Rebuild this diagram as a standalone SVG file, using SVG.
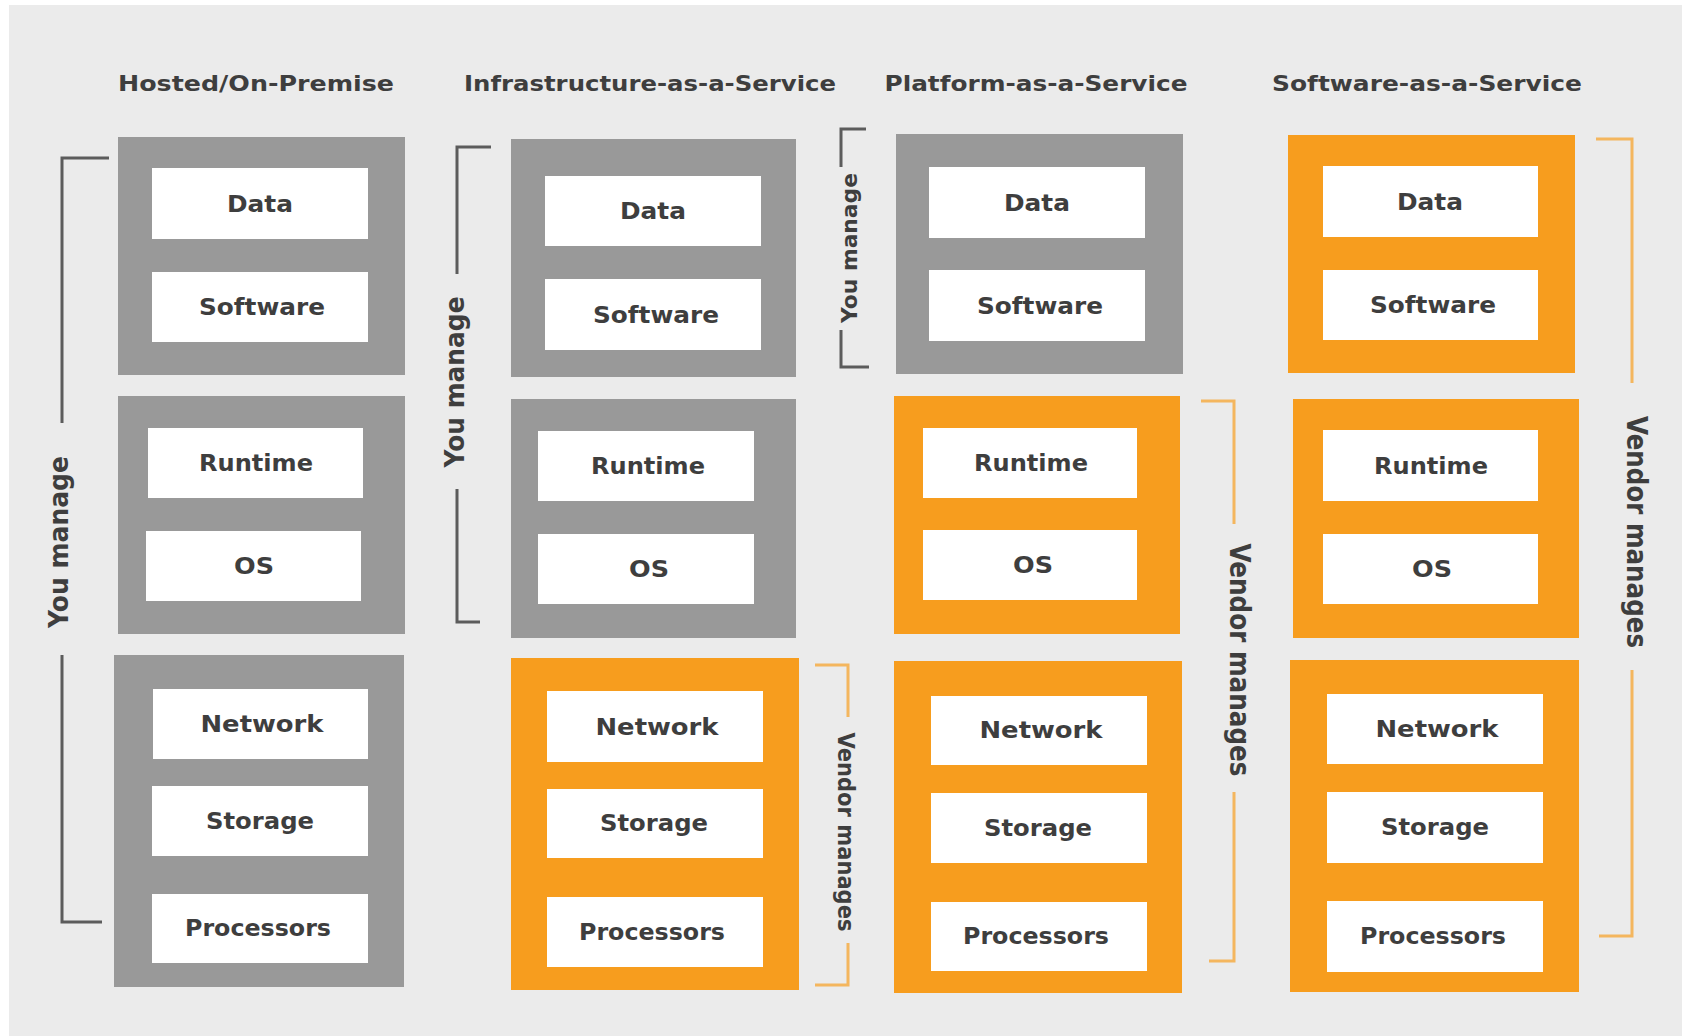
<svg xmlns="http://www.w3.org/2000/svg" width="1682" height="1036" viewBox="0 0 1682 1036">
<style>
.bg{fill:#ebebeb}
.gbox{fill:#999999}
.obox{fill:#f79d1e}
.cell{fill:#ffffff}
text{font-family:"DejaVu Sans","Liberation Sans",sans-serif;font-weight:bold;fill:#3e3e3e}
.lbl{font-size:23px;text-anchor:middle}
.ttl{font-size:21px;text-anchor:middle}
.side{text-anchor:middle}
.gline{fill:none;stroke:#5c5c5c;stroke-width:3}
.oline{fill:none;stroke:#f4b65e;stroke-width:3}
</style>
<rect x="0" y="0" width="1682" height="1036" fill="#ffffff"/>
<rect class="bg" x="9" y="5" width="1673" height="1031"/>

<g id="titles">
<text class="ttl" x="256" y="91" textLength="276" lengthAdjust="spacingAndGlyphs">Hosted/On-Premise</text>
<text class="ttl" x="650" y="91" textLength="372" lengthAdjust="spacingAndGlyphs">Infrastructure-as-a-Service</text>
<text class="ttl" x="1036" y="91" textLength="303" lengthAdjust="spacingAndGlyphs">Platform-as-a-Service</text>
<text class="ttl" x="1427" y="91" textLength="310" lengthAdjust="spacingAndGlyphs">Software-as-a-Service</text>
</g>

<g id="onprem-app">
<rect class="gbox" x="118" y="137" width="287" height="238"/>
<rect class="cell" x="152" y="168" width="216" height="71"/>
<text class="lbl" x="260" y="212" textLength="66" lengthAdjust="spacingAndGlyphs">Data</text>
<rect class="cell" x="152" y="272" width="216" height="70"/>
<text class="lbl" x="262" y="315" textLength="126" lengthAdjust="spacingAndGlyphs">Software</text>
</g>
<g id="onprem-platform">
<rect class="gbox" x="118" y="396" width="287" height="238"/>
<rect class="cell" x="148" y="428" width="215" height="70"/>
<text class="lbl" x="256" y="471" textLength="114" lengthAdjust="spacingAndGlyphs">Runtime</text>
<rect class="cell" x="146" y="531" width="215" height="70"/>
<text class="lbl" x="254" y="574" textLength="40" lengthAdjust="spacingAndGlyphs">OS</text>
</g>
<g id="onprem-infra">
<rect class="gbox" x="114" y="655" width="290" height="332"/>
<rect class="cell" x="153" y="689" width="215" height="70"/>
<text class="lbl" x="262" y="732" textLength="123" lengthAdjust="spacingAndGlyphs">Network</text>
<rect class="cell" x="152" y="786" width="216" height="70"/>
<text class="lbl" x="260" y="829" textLength="108" lengthAdjust="spacingAndGlyphs">Storage</text>
<rect class="cell" x="152" y="894" width="216" height="69"/>
<text class="lbl" x="258" y="936" textLength="146" lengthAdjust="spacingAndGlyphs">Processors</text>
</g>

<g id="iaas-app">
<rect class="gbox" x="511" y="139" width="285" height="238"/>
<rect class="cell" x="545" y="176" width="216" height="70"/>
<text class="lbl" x="653" y="219" textLength="66" lengthAdjust="spacingAndGlyphs">Data</text>
<rect class="cell" x="545" y="279" width="216" height="71"/>
<text class="lbl" x="656" y="323" textLength="126" lengthAdjust="spacingAndGlyphs">Software</text>
</g>
<g id="iaas-platform">
<rect class="gbox" x="511" y="399" width="285" height="239"/>
<rect class="cell" x="538" y="431" width="216" height="70"/>
<text class="lbl" x="648" y="474" textLength="114" lengthAdjust="spacingAndGlyphs">Runtime</text>
<rect class="cell" x="538" y="534" width="216" height="70"/>
<text class="lbl" x="649" y="577" textLength="40" lengthAdjust="spacingAndGlyphs">OS</text>
</g>
<g id="iaas-infra">
<rect class="obox" x="511" y="658" width="288" height="332"/>
<rect class="cell" x="547" y="691" width="216" height="71"/>
<text class="lbl" x="657" y="735" textLength="123" lengthAdjust="spacingAndGlyphs">Network</text>
<rect class="cell" x="547" y="789" width="216" height="69"/>
<text class="lbl" x="654" y="831" textLength="108" lengthAdjust="spacingAndGlyphs">Storage</text>
<rect class="cell" x="547" y="897" width="216" height="70"/>
<text class="lbl" x="652" y="940" textLength="146" lengthAdjust="spacingAndGlyphs">Processors</text>
</g>

<g id="paas-app">
<rect class="gbox" x="896" y="134" width="287" height="240"/>
<rect class="cell" x="929" y="167" width="216" height="71"/>
<text class="lbl" x="1037" y="211" textLength="66" lengthAdjust="spacingAndGlyphs">Data</text>
<rect class="cell" x="929" y="270" width="216" height="71"/>
<text class="lbl" x="1040" y="314" textLength="126" lengthAdjust="spacingAndGlyphs">Software</text>
</g>
<g id="paas-platform">
<rect class="obox" x="894" y="396" width="286" height="238"/>
<rect class="cell" x="923" y="428" width="214" height="70"/>
<text class="lbl" x="1031" y="471" textLength="114" lengthAdjust="spacingAndGlyphs">Runtime</text>
<rect class="cell" x="923" y="530" width="214" height="70"/>
<text class="lbl" x="1033" y="573" textLength="40" lengthAdjust="spacingAndGlyphs">OS</text>
</g>
<g id="paas-infra">
<rect class="obox" x="894" y="661" width="288" height="332"/>
<rect class="cell" x="931" y="696" width="216" height="69"/>
<text class="lbl" x="1041" y="738" textLength="123" lengthAdjust="spacingAndGlyphs">Network</text>
<rect class="cell" x="931" y="793" width="216" height="70"/>
<text class="lbl" x="1038" y="836" textLength="108" lengthAdjust="spacingAndGlyphs">Storage</text>
<rect class="cell" x="931" y="902" width="216" height="69"/>
<text class="lbl" x="1036" y="944" textLength="146" lengthAdjust="spacingAndGlyphs">Processors</text>
</g>

<g id="saas-app">
<rect class="obox" x="1288" y="135" width="287" height="238"/>
<rect class="cell" x="1323" y="166" width="215" height="71"/>
<text class="lbl" x="1430" y="210" textLength="66" lengthAdjust="spacingAndGlyphs">Data</text>
<rect class="cell" x="1323" y="270" width="215" height="70"/>
<text class="lbl" x="1433" y="313" textLength="126" lengthAdjust="spacingAndGlyphs">Software</text>
</g>
<g id="saas-platform">
<rect class="obox" x="1293" y="399" width="286" height="239"/>
<rect class="cell" x="1323" y="430" width="215" height="71"/>
<text class="lbl" x="1431" y="474" textLength="114" lengthAdjust="spacingAndGlyphs">Runtime</text>
<rect class="cell" x="1323" y="534" width="215" height="70"/>
<text class="lbl" x="1432" y="577" textLength="40" lengthAdjust="spacingAndGlyphs">OS</text>
</g>
<g id="saas-infra">
<rect class="obox" x="1290" y="660" width="289" height="332"/>
<rect class="cell" x="1327" y="694" width="216" height="70"/>
<text class="lbl" x="1437" y="737" textLength="123" lengthAdjust="spacingAndGlyphs">Network</text>
<rect class="cell" x="1327" y="792" width="216" height="71"/>
<text class="lbl" x="1435" y="835" textLength="108" lengthAdjust="spacingAndGlyphs">Storage</text>
<rect class="cell" x="1327" y="901" width="216" height="71"/>
<text class="lbl" x="1433" y="944" textLength="146" lengthAdjust="spacingAndGlyphs">Processors</text>
</g>

<g id="connectors">
<path class="gline" d="M109,158 H62 V423 M62,655 V922 H102"/>
<path class="gline" d="M491,147 H457 V274 M457,489 V622 H480"/>
<path class="gline" d="M866,129 H841 V167 M841,330 V367 H869"/>
<path class="oline" d="M815,665 H848 V717 M848,943 V985 H815"/>
<path class="oline" d="M1201,401 H1234 V524 M1234,792 V961 H1209"/>
<path class="oline" d="M1596,139 H1632 V383 M1632,670 V936 H1599"/>
</g>

<g id="side-labels">
<text class="side" font-size="26" transform="translate(68,542) rotate(-90)" textLength="172" lengthAdjust="spacingAndGlyphs">You manage</text>
<text class="side" font-size="26" transform="translate(464,382) rotate(-90)" textLength="171" lengthAdjust="spacingAndGlyphs">You manage</text>
<text class="side" font-size="22" transform="translate(857,248) rotate(-90)" textLength="150" lengthAdjust="spacingAndGlyphs">You manage</text>
<text class="side" font-size="23" transform="translate(838,832) rotate(90)" textLength="199" lengthAdjust="spacingAndGlyphs">Vendor manages</text>
<text class="side" font-size="28" transform="translate(1230,660) rotate(90)" textLength="233" lengthAdjust="spacingAndGlyphs">Vendor manages</text>
<text class="side" font-size="28" transform="translate(1627,532) rotate(90)" textLength="232" lengthAdjust="spacingAndGlyphs">Vendor manages</text>
</g>
</svg>
